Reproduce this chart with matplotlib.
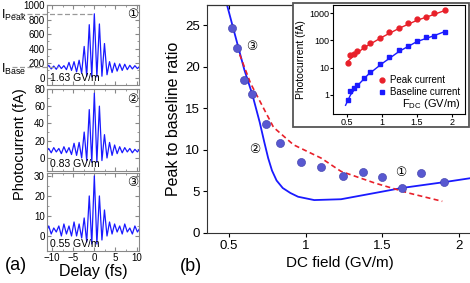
import numpy as np
import matplotlib.pyplot as plt
from matplotlib.patches import Rectangle

plt.rcParams['font.family'] = ['Liberation Sans', 'DejaVu Sans', 'Noto Sans CJK SC']

# ---- (a) delay traces (peaks / troughs every 0.6 fs)
delay = np.linspace(-11.4, 11.4, 39)
trace_163 = [130, 170, 120, 160, 115, 175, 125, 165, 110, 210, 100, 220, 80, 240, 60, 430,
             20, 730, 10, 880, 10, 740, 20, 470, 40, 220, 70, 200, 90, 190, 100, 185,
             110, 170, 120, 165, 125, 160, 130]
trace_083 = [7, 11, 6, 12, 7, 11, 5, 13, 6, 12, 4, 17, 3, 18, 0, 30, -3, 56, -5, 75,
             -5, 60, -3, 27, 0, 18, 3, 15, 5, 13, 6, 12, 7, 11, 6, 10, 7, 11, 8]
trace_055 = [2, 5, 1, 4, 2, 5, 0, 6, 1, 5, 0, 7, 0, 6, -1, 9, -3, 20, -4, 30, -4, 20,
             -2, 13, 0, 7, 1, 6, 2, 5, 1, 6, 2, 4, 1, 5, 2, 4, 2]
field_labels = ['1.63 GV/m', '0.83 GV/m', '0.55 GV/m']
i_peak = 880
i_base = 140

# ---- (b) peak to baseline ratio
dc_field = [0.52, 0.55, 0.60, 0.65, 0.74, 0.83, 0.97, 1.10, 1.24, 1.37, 1.50, 1.63, 1.75, 1.90]
ratio = [24.7, 22.2, 18.4, 16.7, 13.1, 10.8, 8.5, 7.9, 6.8, 7.3, 6.7, 5.4, 7.2, 6.1]
model_x = [0.487, 0.526, 0.60, 0.651, 0.70, 0.73, 0.755, 0.78, 0.81, 0.85, 0.90, 0.95,
           1.055, 1.23, 1.45, 1.625, 1.90, 2.08]
model_y = [27.4, 24.7, 19.6, 16.7, 13.3, 10.9, 9.0, 7.5, 6.3, 5.4, 4.8, 4.35,
           3.95, 4.05, 4.8, 5.4, 6.1, 6.6]
fit_x = [0.55, 0.64, 0.79, 0.92, 1.10, 1.23, 1.45, 1.67, 1.89]
fit_y = [22.4, 18.0, 12.7, 10.6, 9.0, 7.4, 6.0, 4.8, 3.8]

# inset: currents vs field
peak_current = [15, 30, 33, 40, 55, 80, 120, 200, 280, 450, 600, 700, 1000, 1300]
base_current = [0.65, 1.4, 1.8, 2.4, 4.2, 7.2, 14, 25, 44, 62, 92, 130, 150, 210]
peak_fit_x = [0.50, 0.60, 0.75, 1.00, 1.25, 1.50, 1.75, 1.92]
peak_fit_y = [16, 28, 55, 130, 280, 540, 900, 1300]
base_fit_x = [0.48, 0.55, 0.65, 0.80, 1.00, 1.25, 1.50, 1.75, 1.92]
base_fit_y = [0.42, 1.0, 2.2, 5.5, 14, 40, 90, 150, 220]

blue = '#1a1aff'
red = '#e8202a'

fig = plt.figure(figsize=(4.7, 2.83), dpi=100)

# ---------------- panel (a)
boxes = [(0.100, 0.700, 0.196, 0.282), (0.100, 0.396, 0.196, 0.290), (0.100, 0.113, 0.196, 0.276)]
traces = [trace_163, trace_083, trace_055]
ylims = [(-100, 1000), (-15, 80), (-7.5, 31.5)]
yticks = [range(0, 1001, 200), range(0, 81, 20), range(0, 31, 10)]
yminor = [100, 10, 5]
circles = ['\u2460', '\u2461', '\u2462']
left_axes = []
for k in range(3):
    ax = fig.add_axes(boxes[k])
    ax.plot(delay, traces[k], color=blue, lw=0.9)
    ax.set_xlim(-11.2, 10.6)
    ax.set_ylim(*ylims[k])
    ax.set_yticks(list(yticks[k]))
    ax.set_xticks([-10, -5, 0, 5, 10])
    ax.set_xticks(np.arange(-10, 11, 2.5), minor=True)
    ax.set_yticks(np.arange(0, ylims[k][1], yminor[k]), minor=True)
    ax.tick_params(which='both', direction='in', top=True, right=True, labelsize=7,
                   pad=1.5, color='#888888')
    ax.tick_params(which='major', length=3)
    ax.tick_params(which='minor', length=1.5)
    for s in ax.spines.values():
        s.set_color('#888888')
        s.set_linewidth(0.8)
    if k < 2:
        ax.set_xticklabels([])
    ax.text(0.03, 0.02, field_labels[k], transform=ax.transAxes, fontsize=7.5,
            ha='left', va='bottom')
    ax.text(0.93, 0.87, circles[k], transform=ax.transAxes, fontsize=9,
            ha='center', va='center')
    left_axes.append(ax)

ax1 = left_axes[0]
ax1.plot([-19.5, 0], [i_peak, i_peak], color='#999999', ls=(0, (4, 2)), lw=0.9, clip_on=False)
ax1.plot([-19.5, -8.5], [i_base, i_base], color='#999999', ls=(0, (4, 2)), lw=0.9, clip_on=False)
fig.text(0.002, 0.945, r'$\mathregular{I_{Peak}}$', fontsize=9, ha='left', va='center')
fig.text(0.002, 0.755, r'$\mathregular{I_{Base}}$', fontsize=9, ha='left', va='center')

fig.text(0.043, 0.49, 'Photocurrent (fA)', rotation=90, fontsize=10.5, ha='center', va='center')
left_axes[2].set_xlabel('Delay (fs)', fontsize=11.5, labelpad=1)
fig.text(0.01, 0.062, '(a)', fontsize=13, ha='left', va='center')

# ---------------- panel (b)
ax = fig.add_axes((0.440, 0.177, 0.565, 0.805))
ax.plot(model_x, model_y, color=blue, lw=1.3, zorder=2)
ax.plot(fit_x, fit_y, color=red, lw=1.2, ls=(0, (3, 2)), zorder=2)
ax.scatter(dc_field, ratio, s=34, color='#5858d0', edgecolors='#3a3aa8', linewidths=0.4, zorder=3)
ax.set_xlim(0.355, 2.086)
ax.set_ylim(0, 27.4)
ax.set_xticks([0.5, 1, 1.5, 2])
ax.set_xticklabels(['0.5', '1', '1.5', '2'])
ax.set_yticks([0, 5, 10, 15, 20, 25])
ax.tick_params(labelsize=9.5, length=3, pad=2)
ax.spines['right'].set_visible(False)
for s in ax.spines.values():
    s.set_color('#333333')
sec = ax.secondary_xaxis('top')
sec.set_xticks([0.5, 1, 1.5, 2])
sec.tick_params(direction='in', labeltop=False, length=3)
ax.set_xlabel('DC field (GV/m)', fontsize=11, labelpad=3)
ax.set_ylabel('Peak to baseline ratio', fontsize=11.5, labelpad=3)
ax.text(0.65, 22.4, '\u2462', fontsize=9, ha='center', va='center')
ax.text(0.67, 10.0, '\u2461', fontsize=9, ha='center', va='center')
ax.text(1.62, 7.2, '\u2460', fontsize=9, ha='center', va='center')
fig.text(0.406, 0.057, '(b)', fontsize=13, ha='center', va='center')

# ---------------- inset
frame = Rectangle((0.623, 0.551), 0.374, 0.438, transform=fig.transFigure,
                  facecolor='white', edgecolor='#555555', lw=1.3, zorder=4)
fig.patches.append(frame)
ins = fig.add_axes((0.7085, 0.597, 0.2805, 0.385), zorder=5)
ins.set_yscale('log')
ins.plot(peak_fit_x, peak_fit_y, color=red, lw=1.0)
ins.plot(base_fit_x, base_fit_y, color=blue, lw=1.0)
ins.plot(dc_field, peak_current, 'o', color=red, ms=3.5, label='Peak current')
ins.plot(dc_field, base_current, 's', color=blue, ms=3.2, label='Baseline current')
ins.set_xlim(0.3, 2.186)
ins.set_ylim(0.2, 1960)
ins.set_xticks([0.5, 1, 1.5, 2])
ins.set_xticklabels(['0.5', '1', '1.5', '2'])
ins.set_yticks([1, 10, 100, 1000])
ins.set_yticklabels(['1', '10', '100', '1000'])
ins.minorticks_off()
ins.tick_params(labelsize=6.5, length=2, pad=1)
ins.set_ylabel('Photocurrent (fA)', fontsize=7.5, labelpad=2)
ins.legend(loc='lower right', bbox_to_anchor=(1.0, 0.11), fontsize=7, frameon=False,
           handlelength=0.6, handletextpad=0.5, borderaxespad=0.1, labelspacing=0.2)
ins.text(0.97, 0.03, r'$\mathregular{F_{DC}}$ (GV/m)', transform=ins.transAxes,
         fontsize=8, ha='right', va='bottom')

fig.savefig('out.png', dpi=100)
